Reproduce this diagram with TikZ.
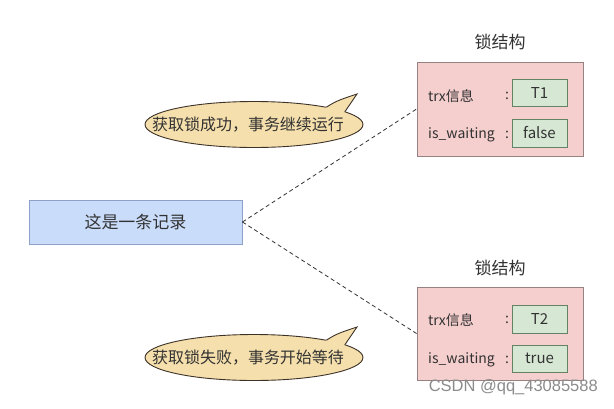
\documentclass[tikz,border=0pt]{standalone}
\usepackage{fontspec}
\setmainfont{Noto Sans CJK SC}
\newfontfamily\wmfont{Liberation Sans}
\usetikzlibrary{shapes.geometric}
\definecolor{recfill}{RGB}{201,220,250}
\definecolor{recdraw}{RGB}{140,160,200}
\definecolor{lockfill}{RGB}{245,206,206}
\definecolor{lockdraw}{RGB}{150,130,130}
\definecolor{valfill}{RGB}{214,232,212}
\definecolor{valdraw}{RGB}{100,130,100}
\definecolor{bubfill}{RGB}{245,223,172}
\definecolor{bubdraw}{RGB}{60,50,40}
\definecolor{txt}{RGB}{50,50,50}
\begin{document}
\begin{tikzpicture}[x=1pt,y=-1pt,
  recbox/.style={draw=recdraw,fill=recfill,line width=0.9pt,minimum width=213pt,minimum height=44pt,inner sep=0pt,text=txt,font=\fontsize{17}{17}\selectfont},
  lockbox/.style={draw=lockdraw,fill=lockfill,line width=0.9pt,minimum width=166pt,inner sep=0pt},
  valbox/.style={draw=valdraw,fill=valfill,line width=0.9pt,minimum width=55pt,minimum height=27pt,inner sep=0pt,text=txt,font=\fontsize{15}{15}\selectfont},
  labtext/.style={inner sep=0pt,anchor=west,text=txt,font=\fontsize{14}{14}\selectfont},
  titletext/.style={inner sep=0pt,text=txt,font=\fontsize{17}{17}\selectfont},
  bubble/.style={ellipse,draw=bubdraw,fill=bubfill,line width=0.9pt,minimum width=218pt,minimum height=46pt,inner sep=0pt},
  bubtext/.style={inner sep=0pt,text=txt,font=\fontsize{16}{16}\selectfont},
  tailedge/.style={draw=bubdraw,line width=0.9pt,line join=miter},
  dashline/.style={draw=txt,line width=0.8pt,dash pattern=on 4pt off 3pt},
  wmtext/.style={inner sep=0pt,text=black!45,font=\wmfont\fontsize{16.5}{16.5}\selectfont}]
\useasboundingbox (0,0) rectangle (614,408);
\fill[white] (0,0) rectangle (614,408);

% record
\node[recbox] (r) at (135.5,222) {这是一条记录};

% lock structure 1
\node[titletext] (t1) at (500,42) {锁结构};
\node[lockbox,minimum height=94pt] (l1) at (500,109) {};
\node[labtext] (a1) at (428,96) {trx信息};
\node[labtext] (b1) at (428,135) {is\_waiting};
\node[labtext,anchor=center] (c1) at (507,96) {:};
\node[labtext,anchor=center] (d1) at (507,135) {:};
\node[valbox] (v1) at (539.5,92.5) {T1};
\node[valbox,minimum height=28pt] (w1) at (539.5,133) {false};

% lock structure 2
\node[titletext] (t2) at (500,268) {锁结构};
\node[lockbox,minimum height=93pt] (l2) at (500,333.5) {};
\node[labtext] (a2) at (428,320) {trx信息};
\node[labtext] (b2) at (428,360) {is\_waiting};
\node[labtext,anchor=center] (c2) at (507,320) {:};
\node[labtext,anchor=center] (d2) at (507,360) {:};
\node[valbox,minimum height=28pt] (v2) at (539.5,319) {T2};
\node[valbox] (w2) at (539.5,358.5) {true};

% dashed connectors
\draw[dashline] (r.east) -- (l1.west);
\draw[dashline] (r.east) -- (l2.west);

% bubble 1
\node[bubble] (s1) at (254,124.5) {};
\coordinate (p1) at (357,94);
\coordinate (q1) at (322,110);
\coordinate (u1) at (344,113);
\fill[bubfill] (q1) .. controls (336,101) .. (p1) -- (u1) -- cycle;
\begin{scope}[even odd rule]
  \clip (0,0) rectangle (614,408) (s1.center) ellipse [x radius=109pt, y radius=23pt];
  \draw[tailedge] (q1) .. controls (336,101) .. (p1) -- (u1);
\end{scope}
\node[bubtext] (x1) at (248,124.5) {获取锁成功，事务继续运行};

% bubble 2
\node[bubble] (s2) at (254,357.5) {};
\coordinate (p2) at (357,327);
\coordinate (q2) at (322,343);
\coordinate (u2) at (344,346);
\fill[bubfill] (q2) .. controls (336,334) .. (p2) -- (u2) -- cycle;
\begin{scope}[even odd rule]
  \clip (0,0) rectangle (614,408) (s2.center) ellipse [x radius=109pt, y radius=23pt];
  \draw[tailedge] (q2) .. controls (336,334) .. (p2) -- (u2);
\end{scope}
\node[bubtext] (x2) at (248,357.5) {获取锁失败，事务开始等待};

% watermark
\node[wmtext,anchor=east] (wm) at (598,387) {CSDN @qq\_43085588};
\end{tikzpicture}
\end{document}
